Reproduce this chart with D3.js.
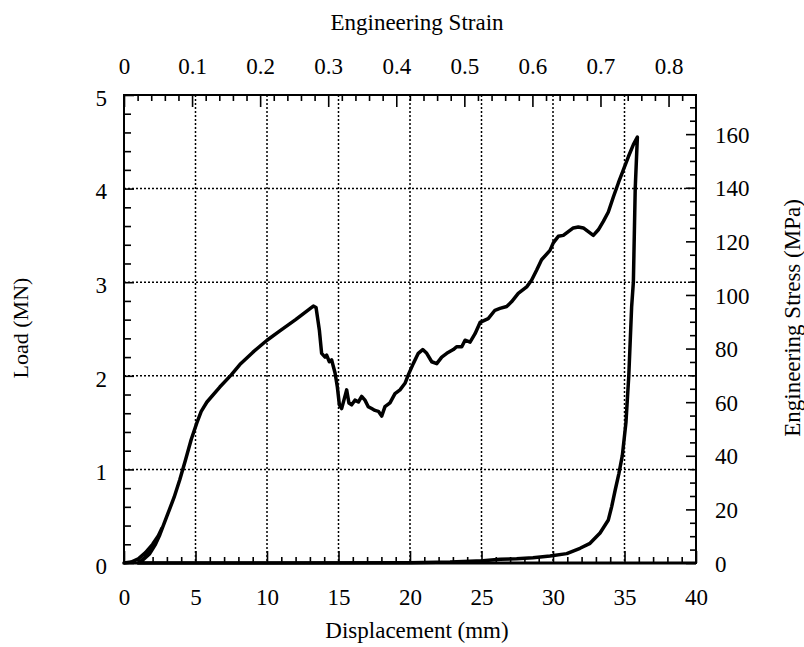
<!DOCTYPE html>
<html>
<head>
<meta charset="utf-8">
<script src="https://cdn.jsdelivr.net/npm/d3@7"></script>
<style>
  body { margin: 0; background: #fff; }
  text { font-family: "Liberation Serif", "Times New Roman", serif; fill: #000; }
</style>
</head>
<body>
<svg id="chart" width="804" height="647"></svg>
<script>
// displacement (mm) and load (MN)
var displacement = [0, 0.5, 1.0, 1.5, 2.0, 2.4, 2.65,
  2.3, 1.9, 1.5, 1.1, 1.0,
  1.3, 1.8, 2.2, 2.5, 2.7,
  3.0, 3.5, 3.9, 4.3, 4.7, 5.1, 5.4, 5.8, 6.7, 7.5, 8.1, 9.0, 10.0, 10.9, 12.0,
  13.24, 13.43, 13.66, 13.82, 14.06, 14.17, 14.36, 14.52, 14.64, 14.76, 14.92,
  15.06, 15.22, 15.38, 15.57, 15.73, 15.92, 16.15, 16.39, 16.62, 16.85, 17.08,
  17.32, 17.55, 17.79, 18.02, 18.25, 18.6, 18.95, 19.3, 19.65, 19.88, 20.23,
  20.58, 20.89, 21.17, 21.52, 21.87, 22.22, 22.57, 23.03, 23.26, 23.62, 23.85,
  24.2, 24.55, 24.9, 25.47, 25.94, 26.29, 26.76, 27.1, 27.57, 28.16, 28.5,
  28.86, 29.2, 29.79, 30.02, 30.37, 30.72, 31.07, 31.42, 31.77, 32.12, 32.47,
  32.82, 33.17, 33.52, 33.87, 34.22, 34.57, 34.92, 35.27, 35.62, 35.9,
  35.75, 35.62, 35.5, 35.3, 35.1, 34.85, 34.6, 34.35, 34.1, 33.87, 33.29, 32.59,
  31.89, 30.96, 29.79, 28.6, 27.46, 26.3, 25.1, 22.8, 20, 10, 1.0];
var load = [0, 0.01, 0.045, 0.11, 0.2, 0.29, 0.37,
  0.26, 0.14, 0.06, 0.01, 0.0,
  0.03, 0.1, 0.2, 0.3, 0.38,
  0.5, 0.7, 0.89, 1.1, 1.32, 1.5, 1.62, 1.72, 1.88, 2.01, 2.12, 2.25, 2.38, 2.48, 2.6,
  2.745, 2.73, 2.49, 2.24, 2.20, 2.22, 2.15, 2.17, 2.10, 2.03, 1.88,
  1.69, 1.65, 1.74, 1.85, 1.71, 1.69, 1.74, 1.72, 1.78, 1.74, 1.67,
  1.65, 1.63, 1.62, 1.57, 1.67, 1.71, 1.81, 1.85, 1.92, 2.01, 2.13,
  2.24, 2.28, 2.24, 2.15, 2.13, 2.20, 2.24, 2.28, 2.31, 2.31, 2.38,
  2.36, 2.45, 2.57, 2.61, 2.70, 2.72, 2.74, 2.79, 2.88, 2.95, 3.02,
  3.13, 3.24, 3.34, 3.42, 3.49, 3.50, 3.54, 3.58, 3.59, 3.58, 3.54,
  3.50, 3.56, 3.65, 3.75, 3.91, 4.06, 4.20, 4.34, 4.47, 4.55,
  4.0, 3.0, 2.74, 2.0, 1.5, 1.15, 0.95, 0.78, 0.6, 0.46, 0.32, 0.21,
  0.157, 0.10, 0.075, 0.057, 0.046, 0.039, 0.025, 0.01, 0.004, 0.0, 0.0];

var dispTicks = [0, 5, 10, 15, 20, 25, 30, 35, 40];
var loadTicks = [0, 1, 2, 3, 4, 5];
var strainTicks = [0, 0.1, 0.2, 0.3, 0.4, 0.5, 0.6, 0.7, 0.8];
var stressTicks = [0, 20, 40, 60, 80, 100, 120, 140, 160];

var gaugeLength = 47.6;    // mm, displacement -> strain
var stressAtTop = 174.6;   // MPa at 5 MN

var margin = { top: 95, right: 108, bottom: 84, left: 124 };
var width = 804 - margin.left - margin.right;
var height = 647 - margin.top - margin.bottom;

var svg = d3.select("#chart");
var g = svg.append("g")
  .attr("transform", "translate(" + margin.left + "," + margin.top + ")");

var x = d3.scaleLinear().domain([0, 40]).range([0, width]);
var y = d3.scaleLinear().domain([0, 5]).range([height, 0]);
var xStrain = d3.scaleLinear().domain([0, 40 / gaugeLength]).range([0, width]);
var yStress = d3.scaleLinear().domain([0, stressAtTop]).range([height, 0]);

// dotted grid
g.selectAll(".vgrid")
  .data(dispTicks.slice(1, -1))
  .enter()
  .append("line")
  .attr("x1", function(d) { return x(d); })
  .attr("x2", function(d) { return x(d); })
  .attr("y1", 0)
  .attr("y2", height)
  .attr("stroke", "#000")
  .attr("stroke-width", 1.5)
  .attr("stroke-dasharray", "2,2");

g.selectAll(".hgrid")
  .data(loadTicks.slice(1, -1))
  .enter()
  .append("line")
  .attr("x1", 0)
  .attr("x2", width)
  .attr("y1", function(d) { return y(d); })
  .attr("y2", function(d) { return y(d); })
  .attr("stroke", "#000")
  .attr("stroke-width", 1.5)
  .attr("stroke-dasharray", "2,2");

function styleAxis(sel, size) {
  sel.select(".domain").remove();
  sel.selectAll("line").attr("stroke", "#000").attr("stroke-width", 1.6);
  sel.selectAll("text").style("font-size", size + "px").style("font-family", "'Liberation Serif', serif");
}

var plain = function(d) { return String(d); };

var minorDisp = d3.range(0, 41).filter(function(d) { return d % 5 !== 0; });
var minorLoad = d3.range(1, 25).map(function(i) { return i * 0.2; }).filter(function(d, i) { return (i + 1) % 5 !== 0; });
var minorStrain = d3.range(1, 42).map(function(i) { return i * 0.02; }).filter(function(d, i) { return (i + 1) % 5 !== 0; });
var minorStress = d3.range(1, 35).map(function(i) { return i * 5; }).filter(function(d) { return d % 20 !== 0; });

// bottom
g.append("g").attr("transform", "translate(0," + height + ")")
  .call(d3.axisBottom(x).tickValues(minorDisp).tickSizeInner(-6).tickSizeOuter(0).tickFormat(""))
  .call(styleAxis, 23);
g.append("g").attr("transform", "translate(0," + height + ")")
  .call(d3.axisBottom(x).tickValues(dispTicks).tickSizeInner(-12).tickSizeOuter(0).tickPadding(26).tickFormat(plain))
  .call(styleAxis, 23);

// top (strain)
g.append("g")
  .call(d3.axisTop(xStrain).tickValues(minorStrain).tickSizeInner(-6).tickSizeOuter(0).tickFormat(""))
  .call(styleAxis, 23);
g.append("g")
  .call(d3.axisTop(xStrain).tickValues(strainTicks).tickSizeInner(-12).tickSizeOuter(0).tickPadding(21)
    .tickFormat(function(d) { return d === 0 ? "0" : d3.format(".1f")(d); }))
  .call(styleAxis, 23);

// left
g.append("g")
  .call(d3.axisLeft(y).tickValues(minorLoad).tickSizeInner(-7).tickSizeOuter(0).tickFormat(""))
  .call(styleAxis, 23);
g.append("g")
  .call(d3.axisLeft(y).tickValues(loadTicks).tickSizeInner(-10).tickSizeOuter(0).tickPadding(17).tickFormat(plain))
  .call(styleAxis, 23)
  .selectAll("text").attr("dy", "0.45em");

// right (stress)
g.append("g").attr("transform", "translate(" + width + ",0)")
  .call(d3.axisRight(yStress).tickValues(minorStress).tickSizeInner(-6).tickSizeOuter(0).tickFormat(""))
  .call(styleAxis, 23);
g.append("g").attr("transform", "translate(" + width + ",0)")
  .call(d3.axisRight(yStress).tickValues(stressTicks).tickSizeInner(-10).tickSizeOuter(0).tickPadding(19).tickFormat(plain))
  .call(styleAxis, 23)
  .selectAll("text").attr("dy", "0.35em");

// frame
g.append("rect")
  .attr("width", width)
  .attr("height", height)
  .attr("fill", "none")
  .attr("stroke", "#000")
  .attr("stroke-width", 2);
g.append("line")
  .attr("x1", 0).attr("x2", width)
  .attr("y1", height).attr("y2", height)
  .attr("stroke", "#000")
  .attr("stroke-width", 3);

// curve
var line = d3.line()
  .x(function(d) { return x(d[0]); })
  .y(function(d) { return y(d[1]); });

g.append("path")
  .datum(d3.zip(displacement, load))
  .attr("d", line)
  .attr("fill", "none")
  .attr("stroke", "#000")
  .attr("stroke-width", 3.5)
  .attr("stroke-linejoin", "round")
  .attr("stroke-linecap", "round");

// titles
svg.append("text")
  .attr("x", 417).attr("y", 30)
  .attr("text-anchor", "middle")
  .style("font-size", "23px")
  .text("Engineering Strain");

svg.append("text")
  .attr("x", 417).attr("y", 638)
  .attr("text-anchor", "middle")
  .style("font-size", "23px")
  .text("Displacement (mm)");

svg.append("text")
  .attr("transform", "translate(28,328) rotate(-90)")
  .attr("text-anchor", "middle")
  .style("font-size", "22px")
  .text("Load (MN)");

svg.append("text")
  .attr("transform", "translate(800,318) rotate(-90)")
  .attr("text-anchor", "middle")
  .style("font-size", "23px")
  .text("Engineering Stress (MPa)");
</script>
</body>
</html>
